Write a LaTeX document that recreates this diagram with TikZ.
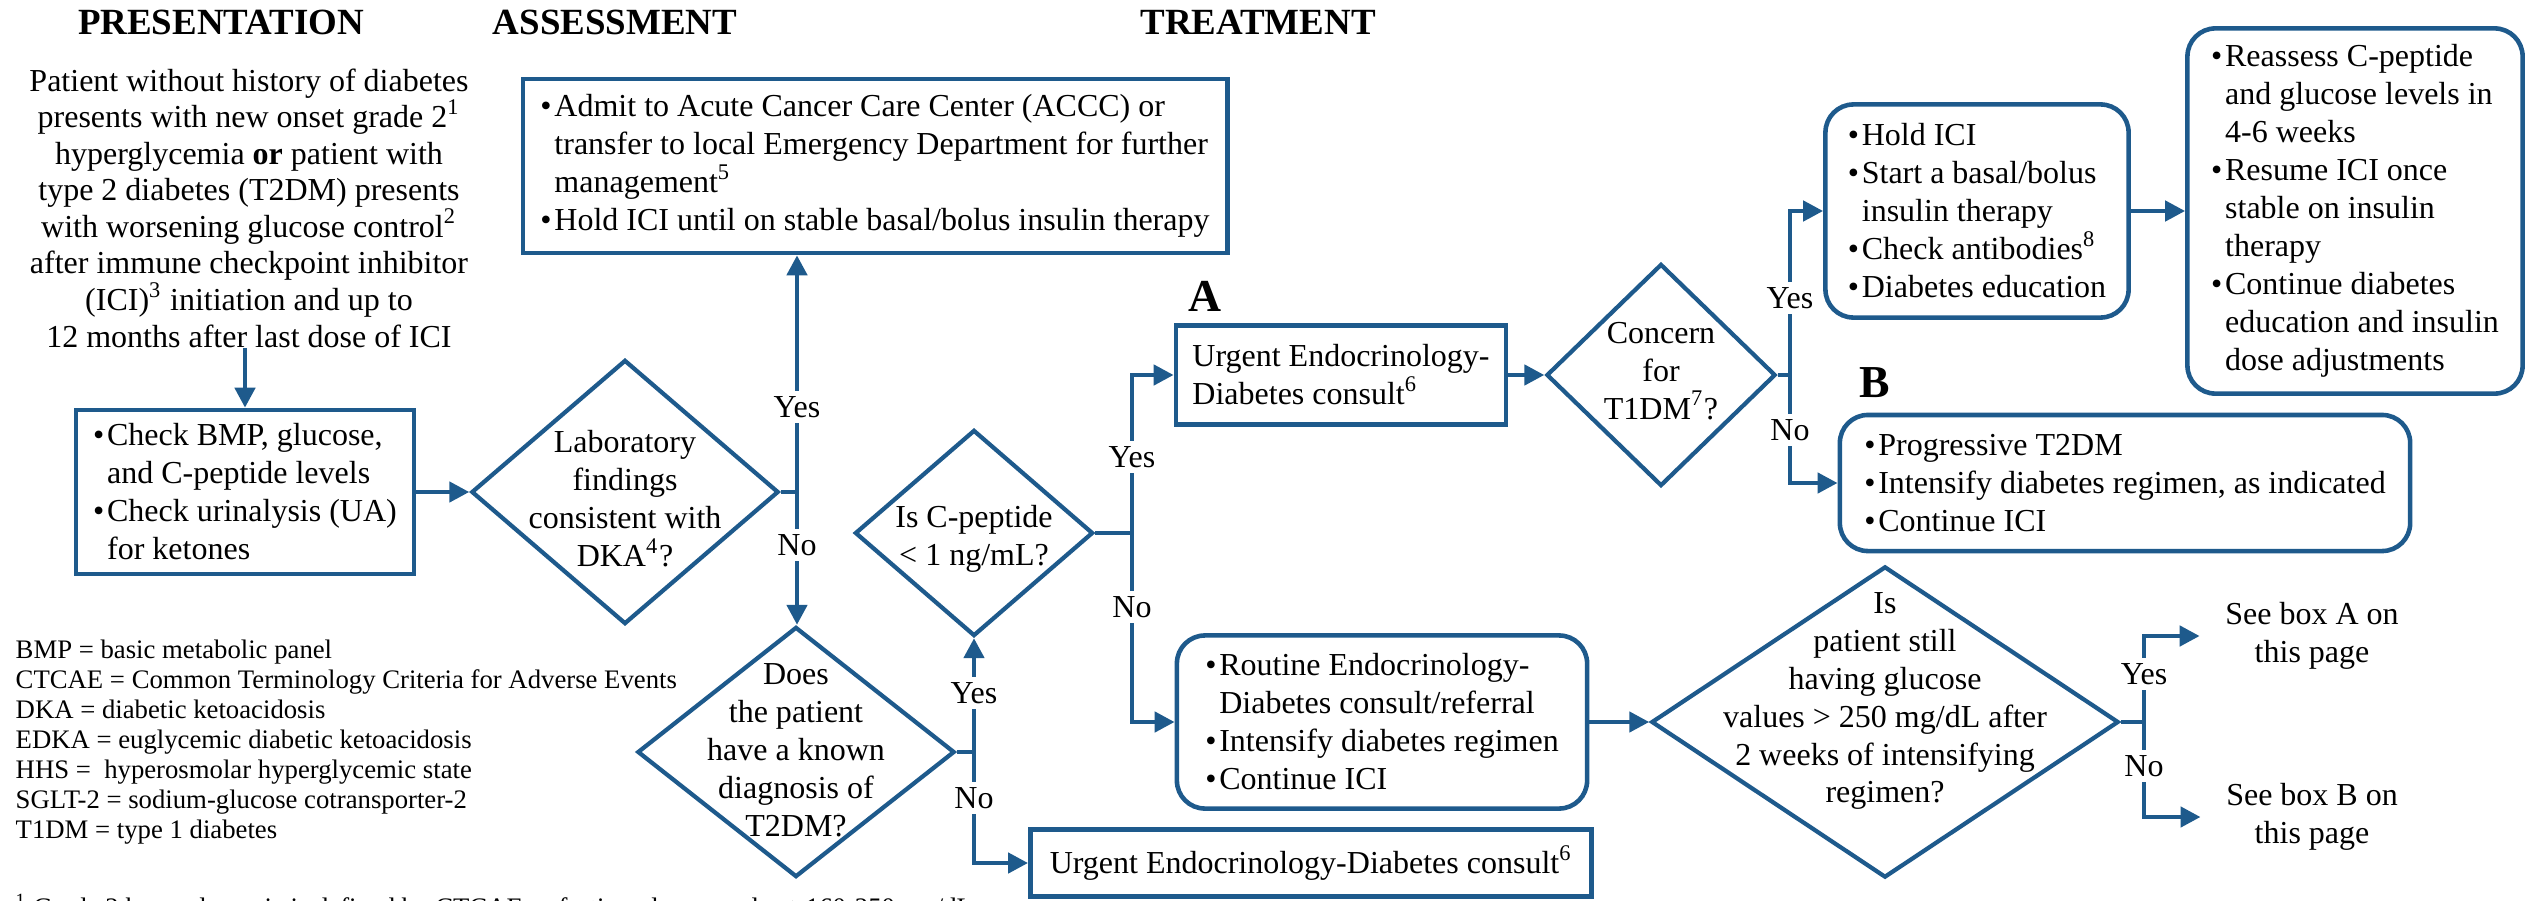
\documentclass[tikz,border=0pt]{standalone}
\usepackage{fontspec}
\setmainfont{Liberation Serif}
\usetikzlibrary{arrows.meta,shapes.geometric}
\definecolor{fb}{RGB}{30,90,140}
\newcommand\mfont{\fontsize{9.1}{10.8}\selectfont}
\newcommand\pfont{\fontsize{9.1}{10.4}\selectfont}
\newcommand\lfont{\fontsize{7.6}{8.5}\selectfont}
\newcommand\bu{\makebox[0.14cm][l]{\textbullet}}
\newcommand\ind{\hspace*{0.14cm}}
\tikzset{
  box/.style={draw=fb, line width=1.3pt, inner sep=0pt, align=left, font=\mfont},
  rbox/.style={box, rounded corners=0.28cm},
  dia/.style={diamond, draw=fb, line width=1.2pt, inner sep=0pt},
  dtext/.style={align=center, font=\mfont, inner sep=0pt},
  lbl/.style={fill=white, inner sep=1.5pt, font=\mfont},
  ln/.style={draw=fb, line width=1.3pt},
  arr/.style={draw=fb, line width=1.3pt, -{Triangle[length=0.2cm,width=0.2cm]}},
  ttl/.style={font=\bfseries\fontsize{10.5}{12}\selectfont, inner sep=0pt},
  big/.style={font=\bfseries\fontsize{13}{15}\selectfont, inner sep=0pt}
}
\begin{document}
\begin{tikzpicture}[x=0.01cm, y=-0.01cm]
\useasboundingbox (0,0) rectangle (2540,900);
\fill[white] (0,0) rectangle (2540,900);

% titles
\node[ttl] (t1) at (221,22) {PRESENTATION};
\node[ttl] (t2) at (615,22) {ASSESSMENT};
\node[ttl] (t3) at (1258,22) {TREATMENT};

% presentation text
\node[align=center, font=\pfont, inner sep=0pt] (pres) at (249,208) {Patient without history of diabetes\\presents with new onset grade 2\textsuperscript{1}\\hyperglycemia \textbf{or} patient with\\type 2 diabetes (T2DM) presents\\with worsening glucose control\textsuperscript{2}\\after immune checkpoint inhibitor\\(ICI)\textsuperscript{3} initiation and up to\\12 months after last dose of ICI};

% boxes
\node[box, minimum width=3.38cm, minimum height=1.64cm] (bmp) at (245,492) {\bu Check BMP, glucose,\\ \ind and C-peptide levels\\ \bu Check urinalysis (UA)\\ \ind for ketones};

\node[box, minimum width=7.04cm, minimum height=1.74cm] (admit) at (875,166) {\bu Admit to Acute Cancer Care Center (ACCC) or\\ \ind transfer to local Emergency Department for further\\ \ind management\textsuperscript{5}\\ \bu Hold ICI until on stable basal/bolus insulin therapy};

\node[box, minimum width=3.30cm, minimum height=0.99cm] (abox) at (1341,375) {Urgent Endocrinology-\\Diabetes consult\textsuperscript{6}};

\node[rbox, minimum width=3.03cm, minimum height=2.13cm] (hold) at (1977,211) {\bu Hold ICI\\ \bu Start a basal/bolus\\ \ind insulin therapy\\ \bu Check antibodies\textsuperscript{8}\\ \bu Diabetes education};

\node[rbox, minimum width=3.35cm, minimum height=3.65cm] (reas) at (2355,211) {\bu Reassess C-peptide\\ \ind and glucose levels in\\ \ind 4-6 weeks\\ \bu Resume ICI once\\ \ind stable on insulin\\ \ind therapy\\ \bu Continue diabetes\\ \ind education and insulin\\ \ind dose adjustments};

\node[rbox, minimum width=5.70cm, minimum height=1.36cm] (bbox) at (2125,483) {\bu Progressive T2DM\\ \bu Intensify diabetes regimen, as indicated\\ \bu Continue ICI};

\node[rbox, minimum width=4.10cm, minimum height=1.73cm] (rout) at (1382,722) {\bu Routine Endocrinology-\\ \ind Diabetes consult/referral\\ \bu Intensify diabetes regimen\\ \bu Continue ICI};

\node[box, minimum width=5.61cm, minimum height=0.67cm] (urg2) at (1311,863) {Urgent Endocrinology-Diabetes consult\textsuperscript{6}};

% box labels
\node[big] (la) at (1205,296) {A};
\node[big] (lb) at (1875,383) {B};

% diamonds
\node[dia, minimum width=3.07cm, minimum height=2.64cm] (lab) at (625,492) {};
\node[dtext] (labt) at (625,499) {Laboratory\\findings\\consistent with\\DKA\textsuperscript{4}?};

\node[dia, minimum width=3.17cm, minimum height=2.50cm] (does) at (796,752) {};
\node[dtext] (doest) at (796,750) {Does\\the patient\\have a known\\diagnosis of\\T2DM?};

\node[dia, minimum width=2.38cm, minimum height=2.06cm] (cpep) at (974,533) {};
\node[dtext] (cpept) at (974,539) {Is C-peptide\\< 1 ng/mL?};

\node[dia, minimum width=2.29cm, minimum height=2.22cm] (conc) at (1661,375) {};
\node[dtext] (conct) at (1661,371) {Concern\\for\\T1DM\textsuperscript{7}?};

\node[dia, minimum width=4.67cm, minimum height=3.11cm] (glu) at (1885,722) {};
\node[dtext] (glut) at (1885,701) {Is\\patient still\\having glucose\\values > 250 mg/dL after\\2 weeks of intensifying\\regimen?};

% see box texts
\node[align=center, font=\mfont, inner xsep=0.25cm, inner ysep=0pt] (seeA) at (2312,636) {See box A on\\this page};
\node[align=center, font=\mfont, inner xsep=0.25cm, inner ysep=0pt] (seeB) at (2312,817) {See box B on\\this page};

% junctions
\coordinate (j1) at (797,492);
\coordinate (j2) at (974,752);
\coordinate (j3) at (1132,533);
\coordinate (j4) at (1790,375);
\coordinate (j5) at (2144,722);

% connectors
\draw[arr] (pres.south -| bmp.north) -- (bmp.north);
\draw[arr] (bmp.east) -- (lab.west);
\draw[ln] (lab.east) -- (j1);
\draw[arr] (j1) -- (j1 |- admit.south);
\draw[arr] (j1) -- (j1 |- does.north);
\draw[ln] (does.east) -- (j2);
\draw[arr] (j2) -- (cpep.south);
\draw[arr] (j2) |- (urg2.west);
\draw[ln] (cpep.east) -- (j3);
\draw[arr] (j3) |- (abox.west);
\draw[arr] (j3) |- (rout.west);
\draw[arr] (abox.east) -- (conc.west);
\draw[ln] (conc.east) -- (j4);
\draw[arr] (j4) |- (hold.west);
\draw[arr] (j4) |- (bbox.west);
\draw[arr] (hold.east) -- (reas.west);
\draw[arr] (rout.east) -- (glu.west);
\draw[ln] (glu.east) -- (j5);
\draw[arr] (j5) |- (seeA.west);
\draw[arr] (j5) |- (seeB.west);

% yes/no labels
\node[lbl] (y1) at (797,407) {Yes};
\node[lbl] (n1) at (797,545) {No};
\node[lbl] (y2) at (974,693) {Yes};
\node[lbl] (n2) at (974,798) {No};
\node[lbl] (y3) at (1132,457) {Yes};
\node[lbl] (n3) at (1132,607) {No};
\node[lbl] (y4) at (1790,298) {Yes};
\node[lbl] (n4) at (1790,430) {No};
\node[lbl] (y5) at (2144,674) {Yes};
\node[lbl] (n5) at (2144,766) {No};

% legend
\node[align=left, font=\lfont, inner sep=0pt, anchor=west] (legend) at (15,742) {BMP = basic metabolic panel\\CTCAE = Common Terminology Criteria for Adverse Events\\DKA = diabetic ketoacidosis\\EDKA = euglycemic diabetic ketoacidosis\\HHS = \ hyperosmolar hyperglycemic state\\SGLT-2 = sodium-glucose cotransporter-2\\T1DM = type 1 diabetes};

% footnote (cut off at bottom edge)
\node[font=\lfont, inner sep=0pt, anchor=base west] (fn) at (15,916) {\textsuperscript{1} Grade 2 hyperglycemia is defined by CTCAE as fasting glucose value >160-250 mg/dL};
\end{tikzpicture}
\end{document}
